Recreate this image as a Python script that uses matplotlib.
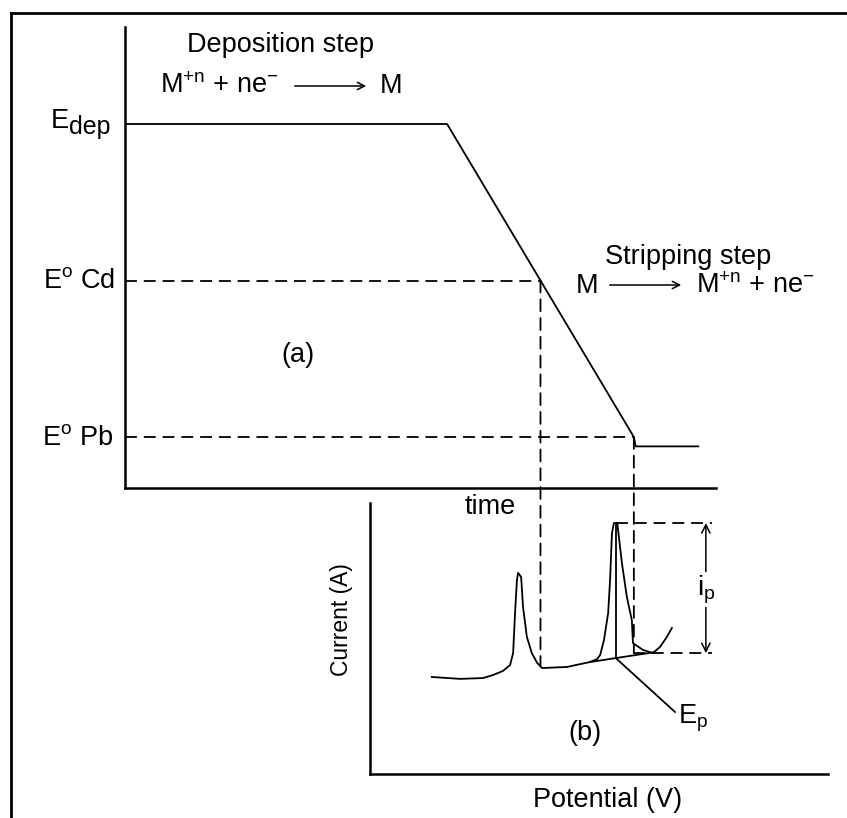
import numpy as np
import matplotlib
matplotlib.use('Agg')
import matplotlib.pyplot as plt
from matplotlib.patches import ConnectionPatch, FancyArrowPatch
from matplotlib.lines import Line2D
from matplotlib.transforms import blended_transform_factory

plt.rcParams['font.family'] = 'Liberation Sans'
plt.rcParams['mathtext.fontset'] = 'custom'
plt.rcParams['mathtext.rm'] = 'Liberation Sans'
plt.rcParams['mathtext.it'] = 'Liberation Sans:italic'

W, H = 847, 818

# (a) potential program: hold at E_dep, then linear scan past the two E0 values
E_dep, E_cd, E_pb = 3.0, 2.0, 1.0
ramp_time = [0.0, 54.5, 86.1, 86.4, 97.0]
ramp_potential = [3.0, 3.0, 1.0, 0.94, 0.94]

# (b) stripping voltammogram (Cd peak, then Pb peak)
scan_potential = [-0.838, -0.764, -0.704, -0.678, -0.652, -0.633, -0.625, -0.620,
                  -0.615, -0.612, -0.604, -0.599, -0.589, -0.576, -0.562, -0.549,
                  -0.484, -0.424, -0.405, -0.397, -0.387, -0.376, -0.371, -0.366,
                  -0.361, -0.352, -0.350, -0.340, -0.327, -0.314, -0.311, -0.285,
                  -0.259, -0.240, -0.222, -0.209]
scan_current = [3.58, 3.51, 3.54, 3.65, 3.80, 4.02, 4.46, 5.94,
                7.16, 7.42, 7.27, 6.16, 5.06, 4.46, 4.10, 3.91,
                3.95, 4.13, 4.24, 4.39, 4.94, 5.94, 7.16, 8.89,
                9.26, 9.26, 9.00, 7.79, 6.53, 5.68, 4.83, 4.58,
                4.46, 4.69, 5.06, 5.39]

# baseline drawn under the Pb peak, and the peak read-out
tangent_potential = [-0.424, -0.253]
tangent_current = [4.13, 4.50]
peak_potential = -0.356
peak_current = 9.26
ip_base = 4.46


def box(left, top, right, bottom):
    return [left / W, 1 - bottom / H, (right - left) / W, (bottom - top) / H]


def fxy(x, y):
    return (x / W, 1 - y / H)


lw_axis = 1.8
lw_line = 1.3
dash = (0, (6.6, 3.8))

fig = plt.figure(figsize=(W / 100, H / 100), dpi=100)

ax_a = fig.add_axes(box(125, 27, 716, 488))
ax_b = fig.add_axes(box(370, 503, 828, 774))
for ax in (ax_a, ax_b):
    ax.set_facecolor('none')
    for s in ('top', 'right'):
        ax.spines[s].set_visible(False)
    for s in ('left', 'bottom'):
        ax.spines[s].set_linewidth(lw_axis)
    ax.set_xticks([])
    ax.set_yticks([])

ax_a.set_xlim(0, 100)
ax_a.set_ylim(0.674, 3.62)
ax_b.set_xlim(-1.0, 0.2)
ax_b.set_ylim(0, 10)

# potential-time program
ax_a.plot(ramp_time, ramp_potential, color='black', lw=lw_line)
t_cd = np.interp(E_cd, [ramp_potential[2], ramp_potential[1]], [ramp_time[2], ramp_time[1]])
t_pb = ramp_time[2]
ax_a.plot([0, t_cd], [E_cd, E_cd], color='black', lw=lw_line, ls=dash)
ax_a.plot([0, t_pb], [E_pb, E_pb], color='black', lw=lw_line, ls=dash)

# voltammogram with peak construction
ax_b.plot(scan_potential, scan_current, color='black', lw=lw_line)
ax_b.plot(tangent_potential, tangent_current, color='black', lw=lw_line)
base_at_peak = np.interp(peak_potential, tangent_potential, tangent_current)
ax_b.plot([peak_potential, peak_potential], [base_at_peak, peak_current], color='black', lw=lw_line)
ax_b.plot([peak_potential, -0.201], [base_at_peak, 2.29], color='black', lw=lw_line)

ip_x = -0.12
ax_b.plot([peak_potential, ip_x + 0.016], [peak_current, peak_current], color='black', lw=lw_line, ls=dash)
ax_b.plot([-0.311, ip_x + 0.016], [ip_base, ip_base], color='black', lw=lw_line, ls=dash)
ax_b.annotate('', xy=(ip_x, peak_current), xytext=(ip_x, ip_base),
              arrowprops=dict(arrowstyle='<->', lw=1.1, color='black',
                              mutation_scale=15, shrinkA=0, shrinkB=0))
ax_b.text(ip_x, 6.8, r'$\mathregular{i_p}$', ha='center', va='center', fontsize=20,
          bbox=dict(facecolor='white', edgecolor='none', pad=1))

# dashed drops from the E0 crossings down to the voltammogram
to_b = blended_transform_factory(ax_a.transData, ax_b.transData)
px_cd = ax_a.transData.transform((t_cd, 0))[0]
v_cd = ax_b.transData.inverted().transform((px_cd, 0))[0]
i_cd = np.interp(v_cd, scan_potential, scan_current)
for t, e, i_end in [(t_cd, E_cd, i_cd), (t_pb, E_pb, ip_base)]:
    con = ConnectionPatch(xyA=(t, e), coordsA=ax_a.transData,
                          xyB=(t, i_end), coordsB=to_b,
                          color='black', lw=lw_line, ls=dash)
    fig.add_artist(con)

# outer frame (left and top edges)
fig.add_artist(Line2D([11 / W, 11 / W], [0, 1 - 13 / H], transform=fig.transFigure,
                      color='black', lw=2.0))
fig.add_artist(Line2D([11 / W, 1], [1 - 13 / H, 1 - 13 / H], transform=fig.transFigure,
                      color='black', lw=2.0))

fs = 19.5

# deposition step labels
fig.text(*fxy(280, 45), 'Deposition step', ha='center', va='center', fontsize=fs)
fig.text(*fxy(160, 93), r'$\mathregular{M^{+n}}$ + ne$^{-}$', ha='left', va='baseline', fontsize=fs)
fig.add_artist(FancyArrowPatch(fxy(292, 86), fxy(369, 86), transform=fig.transFigure,
                               arrowstyle='->', mutation_scale=13, lw=1.1, color='black'))
fig.text(*fxy(380, 93), 'M', ha='left', va='baseline', fontsize=fs)

# stripping step labels
fig.text(*fxy(688, 257), 'Stripping step', ha='center', va='center', fontsize=fs)
fig.text(*fxy(576, 293), 'M', ha='left', va='baseline', fontsize=fs)
fig.add_artist(FancyArrowPatch(fxy(607, 285), fxy(684, 285), transform=fig.transFigure,
                               arrowstyle='->', mutation_scale=13, lw=1.1, color='black'))
fig.text(*fxy(696, 293), r'$\mathregular{M^{+n}}$ + ne$^{-}$', ha='left', va='baseline', fontsize=fs)

# potential levels
fig.text(*fxy(51, 128), 'E', ha='left', va='baseline', fontsize=fs)
fig.text(*fxy(69, 134), 'dep', ha='left', va='baseline', fontsize=18)
fig.text(*fxy(115, 288), r'$\mathregular{E^{o}}$ Cd', ha='right', va='baseline', fontsize=fs)
fig.text(*fxy(113, 445), r'$\mathregular{E^{o}}$ Pb', ha='right', va='baseline', fontsize=fs)

fig.text(*fxy(298, 355), '(a)', ha='center', va='center', fontsize=fs)
fig.text(*fxy(490, 507), 'time', ha='center', va='center', fontsize=fs)
fig.text(*fxy(341, 620), 'Current (A)', ha='center', va='center', rotation=90, fontsize=16.5)
fig.text(*fxy(608, 800), 'Potential (V)', ha='center', va='center', fontsize=fs)
fig.text(*fxy(585, 733), '(b)', ha='center', va='center', fontsize=fs)
fig.text(*fxy(678, 723), r'$\mathregular{E_p}$', ha='left', va='baseline', fontsize=fs)

fig.savefig('out.png', dpi=100)
